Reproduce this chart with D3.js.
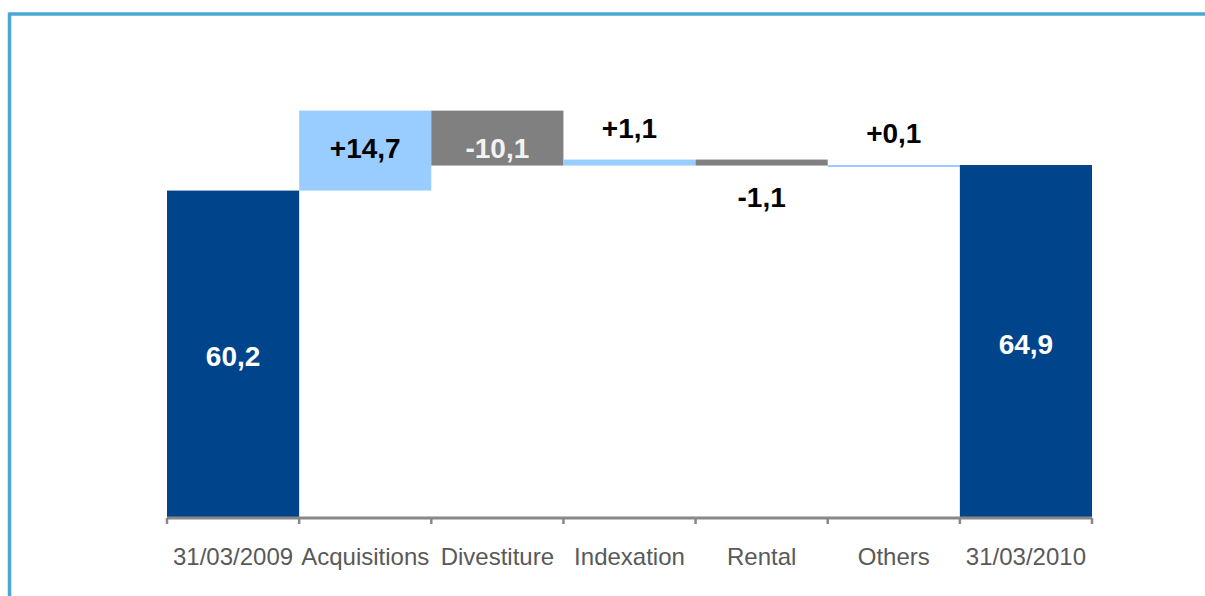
<!DOCTYPE html>
<html>
<head>
<meta charset="utf-8">
<script src="https://cdn.jsdelivr.net/npm/d3@7"></script>
<style>
  body { margin: 0; background: #fff; }
  svg { display: block; }
</style>
</head>
<body>
<div id="chart"></div>
<script>
// waterfall data
const categories = ["31/03/2009", "Acquisitions", "Divestiture", "Indexation", "Rental", "Others", "31/03/2010"];
const kinds = ["total", "up", "down", "up", "down", "up", "total"];
const values = [60.2, 14.7, -10.1, 1.1, -1.1, 0.1, 64.9];
const labels = ["60,2", "+14,7", "-10,1", "+1,1", "-1,1", "+0,1", "64,9"];
const labelPos = ["inside", "inside", "inside", "above", "below", "above", "inside"];

(function () {
    let width = 1205, height = 596;

    let svg = d3.select("#chart").append("svg")
        .attr("width", width)
        .attr("height", height);

    // frame lines
    svg.append("line")
        .attr("x1", 9.5).attr("x2", width)
        .attr("y1", 14).attr("y2", 14)
        .style("stroke", "#4ba6d3").style("stroke-width", 3.5);
    svg.append("line")
        .attr("x1", 9.5).attr("x2", 9.5)
        .attr("y1", 12.5).attr("y2", height)
        .style("stroke", "#4ba6d3").style("stroke-width", 3.5);

    let x = d3.scaleBand()
        .domain(categories)
        .range([167, 1092])
        .padding(0);

    let y = d3.scaleLinear()
        .domain([0, 64.9])
        .range([518, 165]);

    // running totals
    let rows = [];
    let run = 0;
    categories.forEach(function (c, i) {
        let start, end;
        if (kinds[i] === "total") {
            start = 0; end = values[i]; run = values[i];
        } else {
            start = run; end = run + values[i]; run = end;
        }
        rows.push({cat: c, kind: kinds[i], start: start, end: end, label: labels[i], pos: labelPos[i]});
    });

    let color = {total: "#00448b", up: "#99ccff", down: "#808080"};
    let labelColor = {total: "#ffffff", up: "#000000", down: "#f2f2f2"};

    let g = svg.append("g");

    g.selectAll("rect.bar")
        .data(rows)
        .enter().append("rect")
        .attr("class", "bar")
        .attr("x", d => x(d.cat))
        .attr("width", x.bandwidth())
        .attr("y", d => y(Math.max(d.start, d.end)))
        .attr("height", d => Math.max(2, Math.abs(y(d.start) - y(d.end))))
        .attr("fill", d => color[d.kind]);

    // axis
    let axis = g.append("g")
        .attr("transform", "translate(0,518)");
    axis.append("line")
        .attr("x1", 167).attr("x2", 1092)
        .style("stroke", "#888888").style("stroke-width", 3);
    let tickPos = categories.map(c => x(c)).concat([x.range()[1]]);
    axis.selectAll("line.tick")
        .data(tickPos)
        .enter().append("line")
        .attr("class", "tick")
        .attr("x1", d => d).attr("x2", d => d)
        .attr("y1", 0).attr("y2", 6)
        .style("stroke", "#888888").style("stroke-width", 2.5);

    axis.selectAll("text")
        .data(categories)
        .enter().append("text")
        .attr("x", d => x(d) + x.bandwidth() / 2)
        .attr("y", 47)
        .attr("text-anchor", "middle")
        .style("font", "24px 'Liberation Sans', Arial, sans-serif")
        .style("fill", "#595959")
        .text(d => d);

    // value labels
    g.selectAll("text.val")
        .data(rows)
        .enter().append("text")
        .attr("class", "val")
        .attr("x", d => x(d.cat) + x.bandwidth() / 2)
        .attr("y", function (d) {
            let top = y(Math.max(d.start, d.end));
            let bot = y(Math.min(d.start, d.end));
            if (d.pos === "above") return top - 22;
            if (d.pos === "below") return bot + 41;
            if (d.kind !== "total") return top + 47;
            return (top + bot) / 2 + 12;
        })
        .attr("text-anchor", "middle")
        .style("font", "bold 28px 'Liberation Sans', Arial, sans-serif")
        .style("fill", d => d.pos === "inside" ? labelColor[d.kind] : "#000000")
        .text(d => d.label);
})();
</script>
</body>
</html>
